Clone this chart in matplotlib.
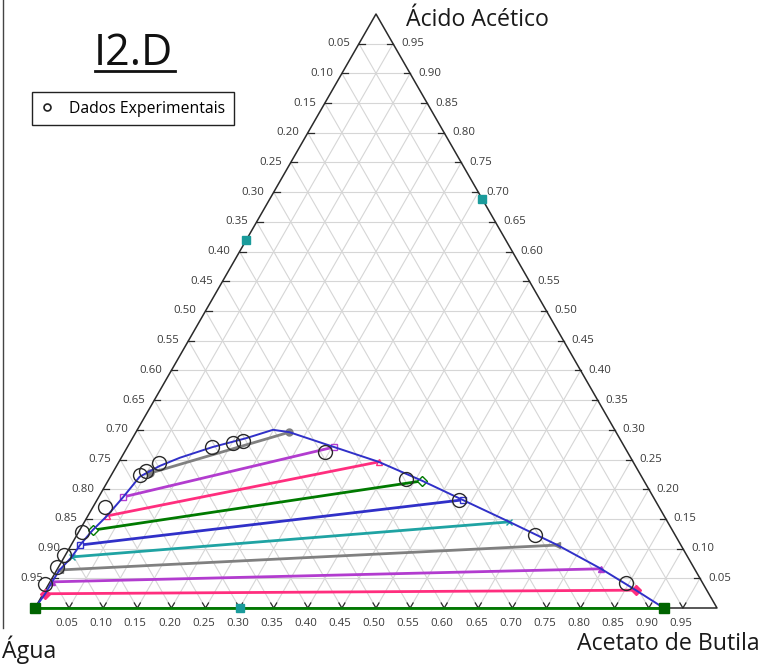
import numpy as np
import matplotlib
matplotlib.use("Agg")
import matplotlib.pyplot as plt
from matplotlib.lines import Line2D

# Frações mássicas: A = ácido acético, B = acetato de butila (água = 1 - A - B)
binodal_acid = [0.000, 0.024, 0.044, 0.064, 0.086, 0.106, 0.131, 0.155, 0.187,
                0.221, 0.239, 0.253, 0.271, 0.286, 0.300, 0.296, 0.271, 0.246,
                0.214, 0.182, 0.145, 0.106, 0.066, 0.030, 0.000]
binodal_butyl = [0.000, 0.003, 0.003, 0.004, 0.011, 0.013, 0.019, 0.028, 0.036,
                 0.043, 0.063, 0.086, 0.125, 0.167, 0.199, 0.225, 0.303, 0.381,
                 0.461, 0.536, 0.623, 0.713, 0.797, 0.866, 0.922]

# Linhas de amarração (fase aquosa -> fase orgânica)
tie_acid_aq = [0.000, 0.024, 0.044, 0.064, 0.086, 0.106, 0.131, 0.155, 0.187, 0.227]
tie_butyl_aq = [0.000, 0.003, 0.003, 0.004, 0.011, 0.013, 0.019, 0.028, 0.036, 0.055]
tie_acid_org = [0.000, 0.030, 0.066, 0.106, 0.145, 0.182, 0.214, 0.246, 0.271, 0.296]
tie_butyl_org = [0.922, 0.866, 0.797, 0.713, 0.623, 0.536, 0.461, 0.381, 0.303, 0.225]
tie_colors = ["#007a00", "#ff2e7e", "#b23ccf", "#808080", "#1fa3a3",
              "#3030c8", "#007a00", "#ff2e7e", "#b23ccf", "#808080"]
tie_markers = ["s", "D", "^", "<", "x", "s", "D", "^", "s", "o"]
tie_filled = [True, True, True, True, False, False, False, False, False, True]

# Dados experimentais
exp_acid = [0.040, 0.069, 0.089, 0.128, 0.170, 0.224, 0.231, 0.244, 0.271,
            0.278, 0.281, 0.263, 0.217, 0.182, 0.123, 0.042]
exp_butyl = [-0.006, -0.002, -0.002, 0.005, 0.017, 0.042, 0.047, 0.060, 0.124,
             0.151, 0.164, 0.293, 0.435, 0.530, 0.672, 0.846]

# Pontos de referência nas arestas
ref_acid = [0.620, 0.688, 0.000]
ref_butyl = [0.000, 0.312, 0.300]

ticks = [k / 20 for k in range(1, 20)]

S3 = np.sqrt(3) / 2


def to_xy(acid, butyl):
    a = np.asarray(acid, dtype=float)
    b = np.asarray(butyl, dtype=float)
    return b + a / 2, a * S3


W, H = 783, 664
fig = plt.figure(figsize=(W / 100, H / 100), dpi=100)
fig.patch.set_facecolor("white")
L, R, B0, T = 35, 717, 608, 14
ax = fig.add_axes([L / W, (H - B0) / H, (R - L) / W, (B0 - T) / H])
ax.set_xlim(0, 1)
ax.set_ylim(0, S3)
ax.axis("off")

px = 1 / (R - L)
py = S3 / (B0 - T)

grid_kw = dict(color="#d6d6d6", lw=0.8, zorder=1, clip_on=False)
for v in ticks:
    x, y = to_xy([v, v], [0, 1 - v])
    ax.plot(x, y, **grid_kw)
    x, y = to_xy([0, 1 - v], [v, v])
    ax.plot(x, y, **grid_kw)
    x, y = to_xy([0, 1 - v], [1 - v, 0])
    ax.plot(x, y, **grid_kw)

# Arestas do triângulo
x, y = to_xy([0, 0, 1, 0], [0, 1, 0, 0])
ax.plot(x, y, color="#2a2a2a", lw=1.1, zorder=3, clip_on=False)

lab_kw = dict(fontsize=8.2, color="#3a3a3a", family=["Open Sans", "DejaVu Sans"])
tick_kw = dict(color="#2a2a2a", lw=0.9, zorder=3, clip_on=False)
for v in ticks:
    # aresta esquerda: fração de água
    x, y = to_xy([1 - v], [0])
    ax.plot([x[0], x[0] + 6 * px], [y[0], y[0]], **tick_kw)
    ax.text(x[0] - 9 * px, y[0], f"{v:.2f}", ha="right", va="center", **lab_kw)
    # aresta direita: fração de ácido acético
    x, y = to_xy([v], [1 - v])
    ax.plot([x[0] - 6 * px, x[0]], [y[0], y[0]], **tick_kw)
    ax.text(x[0] + 8 * px, y[0], f"{v:.2f}", ha="left", va="center", **lab_kw)
    # base: fração de acetato de butila
    x, y = to_xy([0], [v])
    ax.plot([x[0] - 3 * px, x[0], x[0] + 3 * px],
            [y[0] + 5 * py, y[0], y[0] + 5 * py], **tick_kw)
    ax.text(x[0] - 2 * px, y[0] - 15 * py, f"{v:.2f}", ha="center", va="center", **lab_kw)

# Linhas de amarração
for i, c in enumerate(tie_colors):
    x, y = to_xy([tie_acid_aq[i], tie_acid_org[i]], [tie_butyl_aq[i], tie_butyl_org[i]])
    ax.plot(x, y, color=c, lw=2.0, zorder=4, clip_on=False,
            marker=tie_markers[i], ms=5,
            mfc=c if tie_filled[i] else "white", mec=c, mew=1.0)

# Curva binodal
x, y = to_xy(binodal_acid, binodal_butyl)
ax.plot(x, y, color="#3030c8", lw=1.4, zorder=5, clip_on=False)

# Extremos da base
x, y = to_xy([tie_acid_aq[0], tie_acid_org[0]], [tie_butyl_aq[0], tie_butyl_org[0]])
ax.plot(x, y, ls="none", marker="s", ms=7, color="#006400", zorder=6, clip_on=False)

x, y = to_xy(ref_acid, ref_butyl)
ax.plot(x, y, ls="none", marker="s", ms=5.5, color="#1a9b9b", zorder=6, clip_on=False)

x, y = to_xy(exp_acid, exp_butyl)
ax.plot(x, y, ls="none", marker="o", ms=10, mfc="none", mec="#2a2a2a", mew=1.0,
        zorder=7, clip_on=False)

# Rótulos dos vértices
vfont = dict(fontsize=16.7, color="#1a1a1a", family=["Open Sans", "DejaVu Sans"])
fig.text(406 / W, 1 - 20 / H, "Ácido Acético", ha="left", va="center", **vfont)
fig.text(2 / W, 1 - 650 / H, "Água", ha="left", va="center", **vfont)
fig.text(577 / W, 1 - 644 / H, "Acetato de Butila", ha="left", va="center", **vfont)

# Título sublinhado
fig.text(94 / W, 1 - 54 / H, "I2.D", ha="left", va="center", fontsize=31,
         color="#111111", family=["Open Sans", "DejaVu Sans"])
fig.add_artist(Line2D([95 / W, 175 / W], [1 - 71 / H, 1 - 71 / H], color="#111111", lw=2))

# Borda vertical à esquerda
fig.add_artist(Line2D([3 / W, 3 / W], [1, 1 - 628 / H], color="#444444", lw=1))

handle = Line2D([], [], ls="none", marker="o", ms=5, mfc="white", mec="#222222", mew=1.2)
leg = fig.legend([handle], ["Dados Experimentais"], loc="upper left",
                 bbox_to_anchor=(32 / W, 1 - 92 / H), fancybox=False, framealpha=1,
                 edgecolor="#222222", borderpad=0.55, handlelength=0.8, handletextpad=1.0,
                 borderaxespad=0, prop={"family": ["Open Sans", "DejaVu Sans"], "size": 11.3})
leg.get_frame().set_linewidth(1.0)

fig.savefig("out.png", dpi=100, facecolor="white")
